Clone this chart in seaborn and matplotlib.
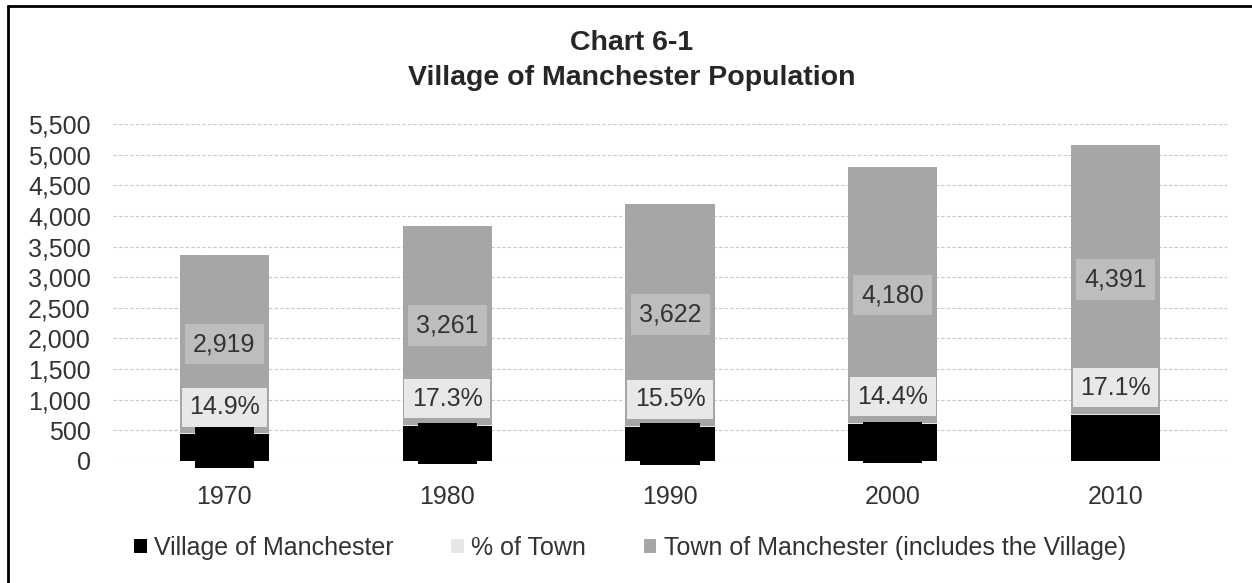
import matplotlib
matplotlib.use('Agg')
import matplotlib.pyplot as plt
import seaborn as sns
import pandas as pd
from matplotlib.patches import Patch
from matplotlib.lines import Line2D
from matplotlib.ticker import FuncFormatter

# dades
years = ['1970', '1980', '1990', '2000', '2010']
village = [435, 564, 561, 602, 751]
pct_town = [14.9, 17.3, 15.5, 14.4, 17.1]
town = [2919, 3261, 3622, 4180, 4391]

C_VILLAGE = '#000000'
C_PCT = '#e6e6e6'
C_TOWN = '#a6a6a6'

sns.set_style("white")
plt.rcParams['font.family'] = ['Liberation Sans', 'DejaVu Sans']

df = pd.DataFrame({'year': years, 'village': village, 'pct': pct_town, 'town': town})
df['low'] = df['village'] + df['pct']
df['total'] = df['low'] + df['town']

fig = plt.figure(figsize=(12.52, 5.83), dpi=100)
ax = fig.add_axes([113 / 1252, 1 - 461 / 583, (1227 - 113) / 1252, (461 - 124) / 583])

# barres apilades (de dalt a baix)
sns.barplot(data=df, x='year', y='total', color=C_TOWN, width=0.4, saturation=1, ax=ax, zorder=2)
sns.barplot(data=df, x='year', y='low', color=C_PCT, width=0.4, saturation=1, ax=ax, zorder=2)
sns.barplot(data=df, x='year', y='village', color=C_VILLAGE, width=0.4, saturation=1, ax=ax, zorder=2)
for p in ax.patches:
    p.set_edgecolor('none')

# etiquetes
for i, row in df.iterrows():
    ax.text(i, row['low'] + row['town'] / 2, f"{int(row['town']):,}", ha='center', va='center',
            fontsize=18, color='#333333', zorder=5,
            bbox=dict(boxstyle='square,pad=0.33', fc='#bdbdbd', ec='none'))
    ax.text(i, row['village'] / 2, f"{int(row['village']):,}", ha='center', va='center',
            fontsize=18, color='black', zorder=5,
            bbox=dict(boxstyle='square,pad=0.35', fc='black', ec='none'))
    ax.annotate(f"{row['pct']:.1f}%", xy=(i, row['low']), xytext=(0, 19), textcoords='offset points',
                ha='center', va='center', fontsize=18, color='#333333', zorder=6,
                bbox=dict(boxstyle='square,pad=0.3', fc='#e8e8e8', ec='none'))

ax.set_ylim(0, 5500)
ax.set_xlim(-0.5, 4.5)
ax.set_yticks(range(0, 5501, 500))
ax.yaxis.set_major_formatter(FuncFormatter(lambda v, _: f"{int(v):,}"))
ax.grid(axis='y', color='#c8c8c8', linestyle=(0, (3, 2)), linewidth=0.8, zorder=0)
ax.set_axisbelow(True)
ax.tick_params(axis='y', length=0, pad=16, labelsize=18, labelcolor='#333333')
ax.tick_params(axis='x', length=0, pad=17, labelsize=18, labelcolor='#333333')
ax.set_xlabel('')
ax.set_ylabel('')
for s in ax.spines.values():
    s.set_visible(False)

fig.text(632 / 1252, 1 - 43 / 583, "Chart 6-1", ha='center', va='center', fontsize=20.5, fontweight='bold')
fig.text(632 / 1252, 1 - 78 / 583, "Village of Manchester Population", ha='center', va='center',
         fontsize=20.5, fontweight='bold')

handles = [Patch(fc=C_VILLAGE, ec='none'), Patch(fc=C_PCT, ec='none'), Patch(fc=C_TOWN, ec='none')]
labels = ['Village of Manchester', '% of Town', 'Town of Manchester (includes the Village)']
fig.legend(handles, labels, loc='center', bbox_to_anchor=(630 / 1252, 1 - 548 / 583), ncol=3,
           frameon=False, fontsize=18, handlelength=0.5, handleheight=0.5, handletextpad=0.3,
           columnspacing=2.3, labelcolor='#333333')

# marc
fig.add_artist(Line2D([7.5 / 1252, 7.5 / 1252], [0, 1 - 6 / 583], color='black', lw=2))
fig.add_artist(Line2D([7.5 / 1252, 1], [1 - 6 / 583, 1 - 6 / 583], color='black', lw=2))

fig.savefig('out.png', dpi=100, facecolor='white')
